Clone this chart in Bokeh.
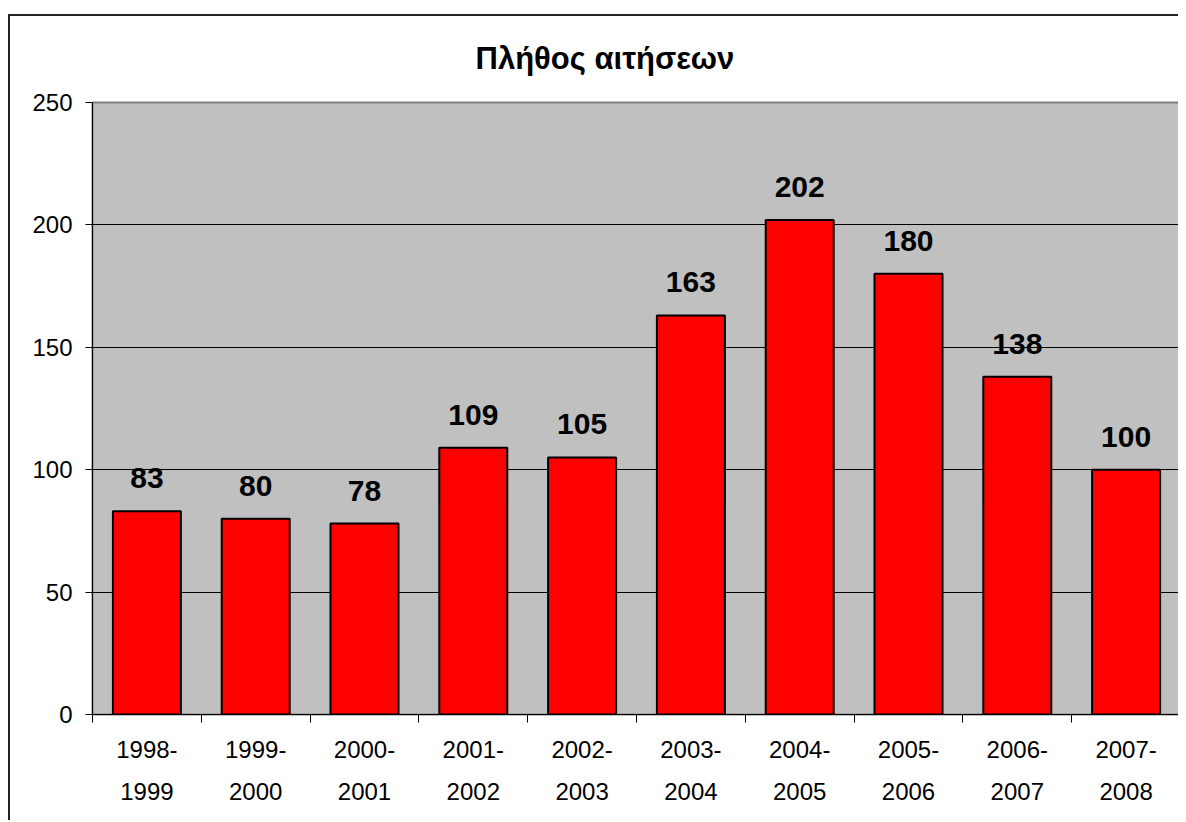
from bokeh.plotting import figure
from bokeh.models import (Range1d, LinearAxis, FixedTicker,
                          CustomJSTickFormatter, ColumnDataSource, LabelSet)
from bokeh.core.properties import value
from bokeh.embed import file_html
from bokeh.resources import INLINE

# ---- data ----
categories = ["1998-1999", "1999-2000", "2000-2001", "2001-2002", "2002-2003",
              "2003-2004", "2004-2005", "2005-2006", "2006-2007", "2007-2008"]
values = [83, 80, 78, 109, 105, 163, 202, 180, 138, 100]
label_line1 = ["1998-", "1999-", "2000-", "2001-", "2002-",
               "2003-", "2004-", "2005-", "2006-", "2007-"]
label_line2 = ["1999", "2000", "2001", "2002", "2003",
               "2004", "2005", "2006", "2007", "2008"]
y_ticks = [0, 50, 100, 150, 200, 250]
grid_ticks = [50, 100, 150, 200]
title_text = "Πλήθος αιτήσεων"

FONT = "Liberation Sans"

n = len(categories)
centers = [i + 0.5 for i in range(n)]
edges = list(range(n + 1))

p = figure(width=1170, height=806,
           x_range=Range1d(0, n), y_range=Range1d(0, 250),
           x_axis_location=None,
           output_backend="svg", toolbar_location=None,
           min_border_left=82, min_border_right=0,
           min_border_top=86, min_border_bottom=108)
p.styles = {"border-left": "2px solid #222", "border-top": "2px solid #222",
            "margin-top": "14px", "margin-left": "8px"}

p.background_fill_color = "#C0C0C0"
p.border_fill_color = "white"
p.outline_line_color = "#808080"
p.outline_line_width = 2

# title
p.title.text = title_text
p.title.align = "left"
p.title.offset = 383
p.title.vertical_align = "top"
p.title.text_font = FONT
p.title.text_font_size = "31px"
p.title.text_font_style = "bold"
p.title.text_color = "black"
p.title.standoff = 49

# grid
p.xgrid.visible = False
p.ygrid.ticker = FixedTicker(ticks=grid_ticks)
p.ygrid.grid_line_color = "black"
p.ygrid.grid_line_width = 1

# y axis
p.yaxis.ticker = FixedTicker(ticks=y_ticks)
p.yaxis.major_tick_out = 7
p.yaxis.major_tick_in = 0
p.yaxis.minor_tick_line_color = None
p.yaxis.axis_line_color = "black"
p.yaxis.major_label_standoff = 13
p.yaxis.major_label_text_font = FONT
p.yaxis.major_label_text_font_size = "24px"
p.yaxis.major_label_text_color = "black"

# x axes (ticks at category edges, two label rows)
axA = LinearAxis(ticker=FixedTicker(ticks=centers, minor_ticks=edges),
                 formatter=CustomJSTickFormatter(args=dict(labels=label_line1),
                                                 code="return labels[Math.floor(tick)] || '';"),
                 major_tick_in=0, major_tick_out=0,
                 minor_tick_in=0, minor_tick_out=8,
                 major_tick_line_color=None,
                 minor_tick_line_color="black",
                 axis_line_color="black",
                 major_label_standoff=18,
                 major_label_text_font=FONT,
                 major_label_text_font_size="24px",
                 major_label_text_color="black")
axB = LinearAxis(ticker=FixedTicker(ticks=centers),
                 formatter=CustomJSTickFormatter(args=dict(labels=label_line2),
                                                 code="return labels[Math.floor(tick)] || '';"),
                 major_tick_in=0, major_tick_out=0,
                 major_tick_line_color=None,
                 minor_tick_line_color=None,
                 axis_line_color=None,
                 major_label_standoff=22,
                 major_label_text_font=FONT,
                 major_label_text_font_size="24px",
                 major_label_text_color="black")
p.add_layout(axA, "below")
p.add_layout(axB, "below")

src = ColumnDataSource(dict(x=centers, val=values, txt=[str(v) for v in values]))
p.vbar(x="x", top="val", width=0.625, source=src,
       fill_color="#FF0000", line_color="black", line_width=2)

labels = LabelSet(x="x", y="val", text="txt", source=src,
                  text_align="center", text_baseline="alphabetic", y_offset=23,
                  text_font=value(FONT), text_font_size="30px",
                  text_font_style="bold", text_color="black")
p.add_layout(labels)

open("out.html", "w").write(file_html(p, INLINE))
